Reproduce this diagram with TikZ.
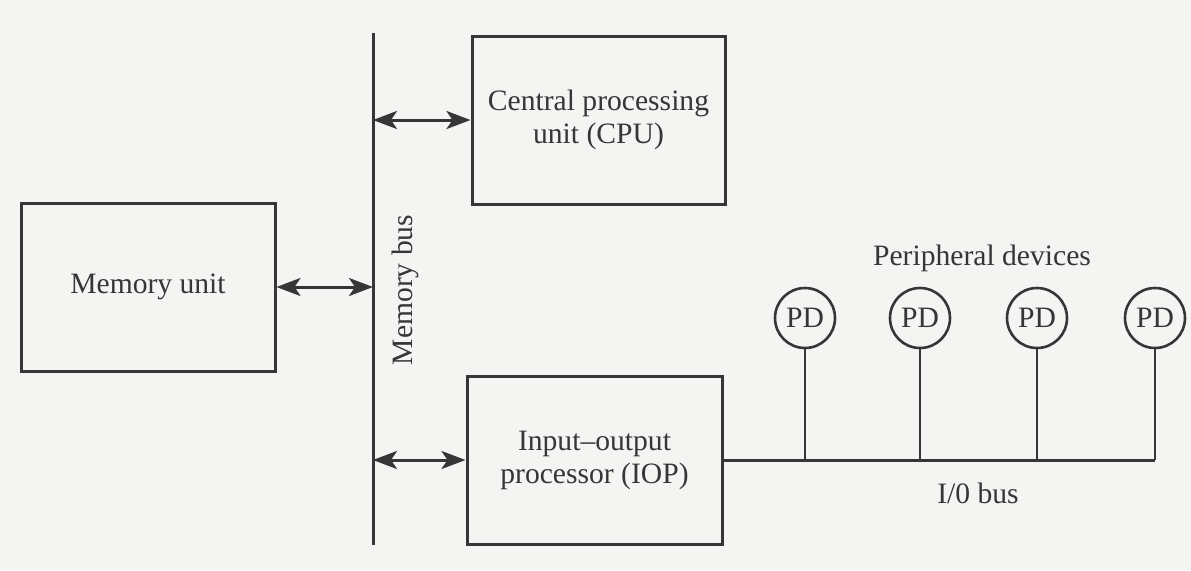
\documentclass[tikz,border=0pt]{standalone}
\usepackage{fontspec}
\setmainfont{Liberation Serif}
\usetikzlibrary{arrows.meta}
\definecolor{ink}{HTML}{363636}
\definecolor{paper}{HTML}{F4F4F2}
\tikzset{
  unitbox/.style={draw=ink, line width=1.5pt, rectangle, minimum width=127pt, minimum height=84pt, align=center, text=ink, font=\fontsize{14.8}{16.5}\selectfont},
  pdcircle/.style={draw=ink, line width=1.3pt, circle, minimum size=30pt, inner sep=0pt, text=ink, font=\fontsize{14.8}{16.5}\selectfont},
  busline/.style={draw=ink, line width=1.5pt},
  wire/.style={draw=ink, line width=1.3pt},
  biarrow/.style={draw=ink, line width=1.5pt, {Stealth[length=12pt,width=9pt,inset=3pt]}-{Stealth[length=12pt,width=9pt,inset=3pt]}},
  lbl/.style={text=ink, font=\fontsize{14.8}{16.5}\selectfont, inner sep=0pt}
}
\begin{document}
\begin{tikzpicture}[x=0.5pt, y=-0.5pt]
\fill[paper] (0,0) rectangle (1191,570);
\useasboundingbox (0,0) rectangle (1191,570);
% memory bus
\coordinate (bt) at (373,33);
\coordinate (bb) at (373,545);
\draw[busline] (bt) -- (bb);
\node[lbl, rotate=90] (mbus) at (405,290) {Memory bus};
% units
\node[unitbox] (mem) at (148,287) {Memory unit};
\node[unitbox, minimum width=126.5pt] (cpu) at (598.5,120) {Central processing\\unit (CPU)};
\node[unitbox, minimum width=127.5pt] (iop) at (594.5,460) {Input--output\\processor (IOP)};
% arrows
\draw[biarrow] (bt |- cpu.west) -- (cpu.west);
\draw[biarrow] (mem.east) -- (mem.east -| bt);
\draw[biarrow] (bt |- iop.west) -- (iop.west);
% I/O bus
\coordinate (ioe) at (1155,462);
\draw[busline] (iop.east) -- (iop.east -| ioe);
\node[pdcircle] (pd1) at (805,318) {PD};
\node[pdcircle] (pd2) at (920,318) {PD};
\node[pdcircle] (pd3) at (1037,318) {PD};
\node[pdcircle] (pd4) at (1155,318) {PD};
\draw[wire] (pd1.south) -- (pd1.south |- iop.east);
\draw[wire] (pd2.south) -- (pd2.south |- iop.east);
\draw[wire] (pd3.south) -- (pd3.south |- iop.east);
\draw[wire] (pd4.south) -- (pd4.south |- iop.east);
\node[lbl] (periph) at (982,258) {Peripheral devices};
\node[lbl] (iobus) at (978,493) {I/0 bus};
\end{tikzpicture}
\end{document}
